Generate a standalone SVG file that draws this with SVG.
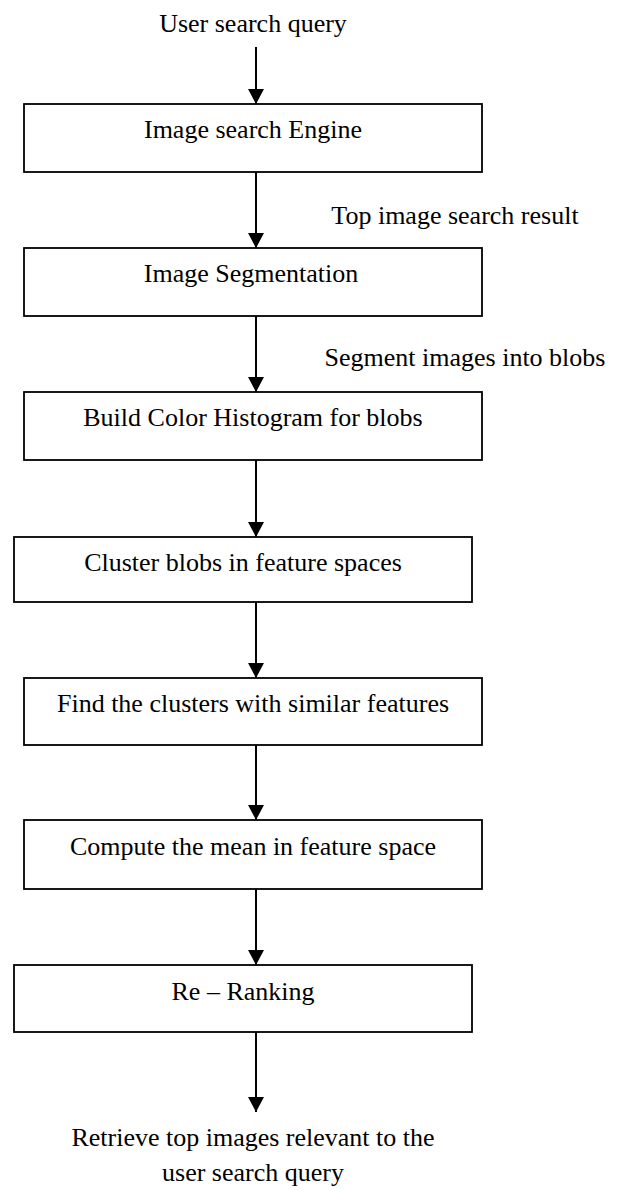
<svg xmlns="http://www.w3.org/2000/svg" width="634" height="1190" viewBox="0 0 634 1190">
  <style>
    text { font-family: "Liberation Serif", "Times New Roman", serif; font-size: 26px; fill: #000; }
    .box { fill: #fff; stroke: #000; stroke-width: 1.8; }
    .conn { stroke: #000; stroke-width: 2; fill: none; marker-end: url(#arrow); }
  </style>
  <defs>
    <marker id="arrow" markerUnits="userSpaceOnUse" markerWidth="15" markerHeight="16" viewBox="0 0 15 16" refX="15" refY="8" orient="auto">
      <path d="M0,0 L15,8 L0,16 Z" fill="#000"/>
    </marker>
  </defs>
  <rect width="634" height="1190" fill="#fff"/>

  <g id="connectors">
    <path class="conn" d="M256,47 V104"/>
    <path class="conn" d="M256,172 V248"/>
    <path class="conn" d="M256,316 V392"/>
    <path class="conn" d="M256,460 V537"/>
    <path class="conn" d="M256,602 V678"/>
    <path class="conn" d="M256,745 V820"/>
    <path class="conn" d="M256,889 V965"/>
    <path class="conn" d="M256,1032 V1112"/>
    <text x="455" y="224" text-anchor="middle">Top image search result</text>
    <text x="465" y="366" text-anchor="middle">Segment images into blobs</text>
  </g>

  <g id="start">
    <text x="253" y="32" text-anchor="middle">User search query</text>
  </g>
  <g id="n1">
    <rect class="box" x="24" y="104" width="458" height="68"/>
    <text x="253" y="138" text-anchor="middle">Image search Engine</text>
  </g>
  <g id="n2">
    <rect class="box" x="24" y="248" width="458" height="68"/>
    <text x="251" y="282" text-anchor="middle">Image Segmentation</text>
  </g>
  <g id="n3">
    <rect class="box" x="24" y="392" width="458" height="68"/>
    <text x="253" y="426" text-anchor="middle">Build Color Histogram for blobs</text>
  </g>
  <g id="n4">
    <rect class="box" x="14" y="537" width="458" height="65"/>
    <text x="243" y="571" text-anchor="middle">Cluster blobs in feature spaces</text>
  </g>
  <g id="n5">
    <rect class="box" x="24" y="678" width="458" height="67"/>
    <text x="253" y="712" text-anchor="middle">Find the clusters with similar features</text>
  </g>
  <g id="n6">
    <rect class="box" x="24" y="820" width="458" height="69"/>
    <text x="253" y="855" text-anchor="middle">Compute the mean in feature space</text>
  </g>
  <g id="n7">
    <rect class="box" x="14" y="965" width="458" height="67"/>
    <text x="243" y="1000" text-anchor="middle">Re – Ranking</text>
  </g>
  <g id="end">
    <text x="253" y="1146" text-anchor="middle">Retrieve top images relevant to the</text>
    <text x="253" y="1181" text-anchor="middle">user search query</text>
  </g>
</svg>
